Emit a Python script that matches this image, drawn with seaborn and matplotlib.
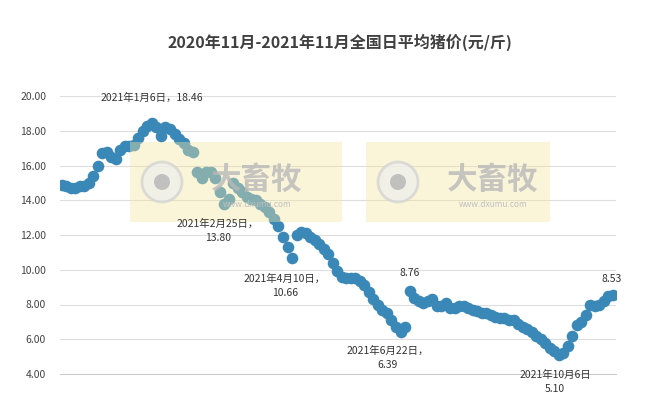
import matplotlib.pyplot as plt
import matplotlib.patches as mpatches
import pandas as pd
import seaborn as sns

# daily pork price, sampled every 3 days from 2020-11-09
start_date = "2020-11-09"
prices = [
    14.9, 14.8, 14.7, 14.7, 14.8, 14.8, 15.0, 15.4, 16.0, 16.7,
    16.8, 16.5, 16.4, 16.9, 17.1, 17.1, 17.2, 17.6, 18.0, 18.3,
    18.46, 18.2, 17.7, 18.2, 18.1, 17.8, 17.5, 17.3, 16.9, 16.8,
    15.6, 15.3, 15.6, 15.6, 15.3, 14.5, 13.8, 14.1, 15.0, 14.7,
    14.5, 14.2, 14.1, 14.0, 13.8, 13.6, 13.3, 12.9, 12.5, 11.9,
    11.3, 10.66, 12.0, 12.2, 12.1, 11.9, 11.7, 11.5, 11.2, 10.9,
    10.4, 9.9, 9.6, 9.5, 9.5, 9.5, 9.35, 9.1, 8.7, 8.3,
    8.0, 7.7, 7.5, 7.1, 6.7, 6.39, 6.7, 8.76, 8.4, 8.2,
    8.1, 8.2, 8.3, 7.9, 7.9, 8.1, 7.8, 7.8, 7.9, 7.9,
    7.8, 7.7, 7.6, 7.5, 7.5, 7.4, 7.3, 7.2, 7.2, 7.1,
    7.1, 6.9, 6.7, 6.6, 6.4, 6.2, 6.0, 5.8, 5.5, 5.3,
    5.1, 5.2, 5.6, 6.2, 6.8, 7.0, 7.4, 8.0, 7.9, 8.0,
    8.2, 8.5, 8.53,
]
y_ticks = [4, 6, 8, 10, 12, 14, 16, 18, 20]

df = pd.DataFrame({
    "date": pd.date_range(start_date, periods=len(prices), freq="3D"),
    "price": prices,
})

sns.set_style("white")
plt.rcParams["font.family"] = ["Noto Sans CJK SC", "DejaVu Sans"]

W, H = 650, 400
fig = plt.figure(figsize=(6.5, 4), dpi=100)
ax = fig.add_axes([60 / W, 1 - 374 / H, 556 / W, 278 / H])

sns.scatterplot(data=df, x="date", y="price", ax=ax, color="#3a88b8",
                s=70, linewidth=0, zorder=3)

ax.set_ylim(4, 20)
ax.set_xlim(df["date"].iloc[0] - pd.Timedelta(days=1), df["date"].iloc[-1] + pd.Timedelta(days=2))
ax.set_yticks(y_ticks)
ax.set_yticklabels([f"{v:.2f}" for v in y_ticks], fontsize=7.5, color="#444444")
ax.set_xticks([])
ax.set_xlabel("")
ax.set_ylabel("")
ax.grid(axis="y", color="#dddddd", linewidth=0.8)
for s in ["top", "right", "left"]:
    ax.spines[s].set_visible(False)
ax.spines["bottom"].set_color("#cccccc")
ax.tick_params(axis="y", length=0, pad=10)

def px(x, y):
    return x / W, 1 - y / H

fig.text(*px(340, 42), "2020年11月-2021年11月全国日平均猪价(元/斤)", ha="center",
         va="center", fontsize=11.5, fontweight="bold", color="#404040")

# watermarks over the data
for x0, x1 in [(130, 342), (366, 550)]:
    fig.patches.append(mpatches.Rectangle(px(x0, 222), (x1 - x0) / W, 80 / H,
                       transform=fig.transFigure, color="#f3e6a0", alpha=0.4,
                       zorder=5, linewidth=0))
    cx = x0 + 32
    fig.patches.append(mpatches.Ellipse(px(cx, 182), 40 / W, 40 / H, transform=fig.transFigure,
                       facecolor="#eeeeee", edgecolor="#d0d0d0", lw=2, alpha=0.7, zorder=6))
    fig.patches.append(mpatches.Ellipse(px(cx, 182), 16 / W, 16 / H, transform=fig.transFigure,
                       facecolor="#bbbbbb", edgecolor="none", alpha=0.9, zorder=7))
    fig.text(*px(cx + 95, 180), "大畜牧", ha="center", va="center", fontsize=22,
             color="#b8b8b8", fontweight="bold", alpha=0.8, zorder=7)
    fig.text(*px(cx + 95, 205), "www.dxumu.com", ha="center", va="center", fontsize=6,
             color="#c0c0c0", zorder=7)

labels = [
    (152, 98, "2021年1月6日，18.46"),
    (218, 231, "2021年2月25日，\n13.80"),
    (285, 286, "2021年4月10日，\n10.66"),
    (410, 273, "8.76"),
    (388, 358, "2021年6月22日，\n6.39"),
    (555, 382, "2021年10月6日\n5.10"),
    (612, 279, "8.53"),
]
for x, y, t in labels:
    fig.text(*px(x, y), t, ha="center", va="center", fontsize=7.5, color="#333333",
             linespacing=1.5, zorder=8)

fig.savefig("out.png", dpi=100, facecolor="white")
